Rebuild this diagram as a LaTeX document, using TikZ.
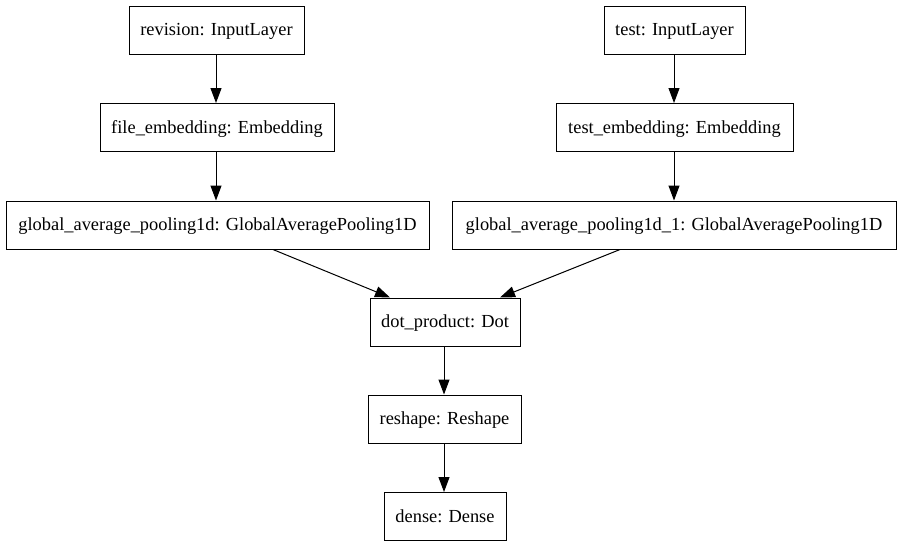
\documentclass[tikz,border=0pt]{standalone}
\usepackage{fontspec}
\setmainfont{Liberation Serif}
\usetikzlibrary{arrows.meta}
\begin{document}
\begin{tikzpicture}[x=1pt,y=-1pt,
  layer/.style={draw, line width=1pt, minimum height=48pt, inner sep=0pt, text height=13pt, text depth=2pt, font=\fontsize{18.4}{20}\selectfont},
  conn/.style={line width=1pt, -{Triangle[length=15pt,width=11pt]}}]
\useasboundingbox (0,0) rectangle (901,547);
\node[layer, minimum width=175pt] (rev) at (216.5,30) {revision: InputLayer};
\node[layer, minimum width=234pt] (fe) at (217,127.5) {file\_embedding: Embedding};
\node[layer, minimum width=423pt] (gap) at (217.5,225) {global\_average\_pooling1d: GlobalAveragePooling1D};
\node[layer, minimum width=141pt] (test) at (674.5,30) {test: InputLayer};
\node[layer, minimum width=237pt] (te) at (674.5,127.5) {test\_embedding: Embedding};
\node[layer, minimum width=444pt] (gapa) at (674,225) {global\_average\_pooling1d\_1: GlobalAveragePooling1D};
\node[layer, minimum width=150pt] (dot) at (445,322) {dot\_product: Dot};
\node[layer, minimum width=153pt] (resh) at (444.5,419) {reshape: Reshape};
\node[layer, minimum width=122pt] (dense) at (445,516.5) {dense: Dense};
\draw[conn] (rev.south -| 216,0) -- (fe.north -| 216,0);
\draw[conn] (fe.south -| 216,0) -- (gap.north -| 216,0);
\draw[conn] (test.south -| 674,0) -- (te.north -| 674,0);
\draw[conn] (te.south -| 674,0) -- (gapa.north -| 674,0);
\draw[conn] (gap.south -| 273,0) -- (dot.north -| 390,0);
\draw[conn] (gapa.south -| 620,0) -- (dot.north -| 500,0);
\draw[conn] (dot.south -| 444,0) -- (resh.north -| 444,0);
\draw[conn] (resh.south -| 444,0) -- (dense.north -| 444,0);
\end{tikzpicture}
\end{document}
